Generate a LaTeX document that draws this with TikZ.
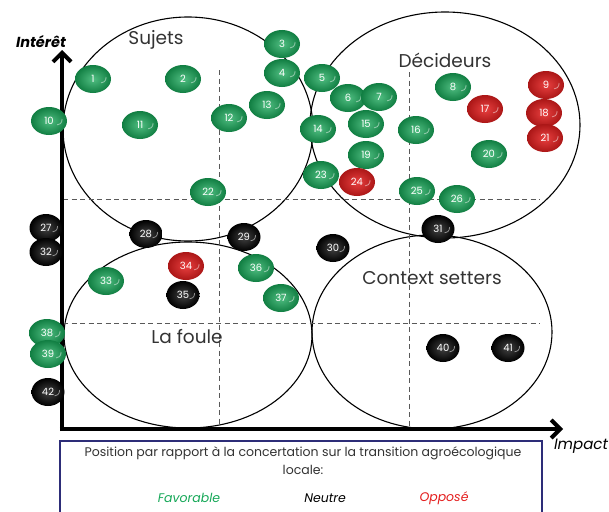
\documentclass[tikz,border=0pt]{standalone}
\usepackage{fontspec}
\setmainfont{Poppins}
\usetikzlibrary{shapes.geometric,arrows.meta}
\definecolor{candyG}{RGB}{22,168,88}
\definecolor{candyR}{RGB}{228,30,30}
\definecolor{candyK}{RGB}{20,20,20}
\definecolor{boxblue}{RGB}{45,45,120}
\tikzset{
  candy/.style={ellipse,minimum width=36pt,minimum height=28pt,inner sep=0pt,
    text=white,font=\fontsize{10}{10}\selectfont,
    path picture={\draw[white,opacity=.5,line width=.8pt]
      ([xshift=-5pt,yshift=2pt]path picture bounding box.east)
      arc[start angle=10,end angle=-90,radius=5pt];}},
  gr/.style={candy,inner color=candyG!75!white,outer color=candyG!75!black},
  rd/.style={candy,inner color=candyR!85!white,outer color=candyR!75!black},
  bk/.style={candy,minimum width=33pt,inner color=candyK!80!white,outer color=black},
  group/.style={font=\fontsize{18.5}{18.5}\selectfont,text=black!80},
  legtext/.style={font=\fontsize{12.5}{12.5}\selectfont,text=black!80},
  quad/.style={gray!70!black,line width=.9pt,dash pattern=on 5pt off 3.5pt},
  axis/.style={line width=4.5pt,-{Straight Barb[length=9pt,width=18pt,line width=4pt]}}
}
\begin{document}
\begin{tikzpicture}[x=1pt,y=-1pt]
\useasboundingbox[fill=white] (0,0) rectangle (609,511);
% groupes
\draw[line width=1.1pt] (188,129) ellipse [x radius=125,y radius=112];
\draw[line width=1.1pt] (445,125) ellipse [x radius=135,y radius=113];
\draw[line width=1.1pt] (188,335) ellipse [x radius=124,y radius=93];
\draw[line width=1.1pt] (432,332) ellipse [x radius=120,y radius=97];
% quadrants
\draw[quad] (63,199) -- (540,199);
\draw[quad] (63,323) -- (540,323);
\draw[quad] (219,70) -- (219,429);
\draw[quad] (409,72) -- (409,429);
% axes
\coordinate (O) at (62,429);
\coordinate (ytip) at (62,50);
\coordinate (xtip) at (563,429);
\draw[axis] ([yshift=-2.2pt]O) -- (ytip);
\draw[axis] ([xshift=-2.2pt]O) -- (xtip);
\node[font=\fontsize{14.5}{14.5}\selectfont\bfseries\itshape](yl) at (41,42) {Intérêt};
\node[font=\fontsize{15}{15}\selectfont\itshape](xl) at (581,446) {Impact};
\node[group](sujets) at (156,40) {Sujets};
\node[group](decideurs) at (445,60) {Décideurs};
\node[group](foule) at (187,337) {La foule};
\node[group](context) at (432,278) {Context setters};
% acteurs
\node[gr](c1) at (93,79) {1};
\node[gr](c2) at (183,79) {2};
\node[gr](c3) at (282,44) {3};
\node[gr](c4) at (282,73) {4};
\node[gr](c5) at (322,78) {5};
\node[gr](c6) at (348,98) {6};
\node[gr](c7) at (379,97) {7};
\node[gr](c8) at (453,87) {8};
\node[rd](c9) at (546,85) {9};
\node[gr](c10) at (49,121) {10};
\node[gr](c11) at (140,125) {11};
\node[gr](c12) at (229,118) {12};
\node[gr](c13) at (267,105) {13};
\node[gr](c14) at (318,129) {14};
\node[gr](c15) at (366,124) {15};
\node[gr](c16) at (416,130) {16};
\node[rd](c17) at (485,109) {17};
\node[rd](c18) at (544,113) {18};
\node[gr](c19) at (366,155) {19};
\node[gr](c20) at (489,154) {20};
\node[rd](c21) at (545,138) {21};
\node[gr](c22) at (208,192) {22};
\node[gr](c23) at (321,175) {23};
\node[rd](c24) at (357,182) {24};
\node[gr](c25) at (417,191) {25};
\node[gr](c26) at (457,199) {26};
\node[bk](c27) at (46,228) {27};
\node[bk](c28) at (146,234) {28};
\node[bk](c29) at (244,237) {29};
\node[bk](c30) at (333,248) {30};
\node[bk](c31) at (438,229) {31};
\node[bk](c32) at (46,252) {32};
\node[gr](c33) at (106,281) {33};
\node[rd](c34) at (186,266) {34};
\node[bk](c35) at (183,295) {35};
\node[gr](c36) at (256,268) {36};
\node[gr](c37) at (281,298) {37};
\node[gr](c38) at (47,333) {38};
\node[gr](c39) at (48,354) {39};
\node[bk](c40) at (443,348) {40};
\node[bk](c41) at (508,348) {41};
\node[bk](c42) at (48,392) {42};
% legende
\draw[boxblue,line width=1.2pt] (60,441) rectangle (542,514);
\node[legtext](pos) at (303,453) {Position par rapport à la concertation sur la transition agroécologique};
\node[legtext](loc) at (303,470) {locale:};
\node[legtext,font=\fontsize{12.5}{12.5}\selectfont\itshape,text=candyG](fav) at (189,498) {Favorable};
\node[legtext,font=\fontsize{12.5}{12.5}\selectfont\itshape,text=black](neu) at (325,498) {Neutre};
\node[legtext,font=\fontsize{12.5}{12.5}\selectfont\itshape,text=candyR](opp) at (444,498) {Opposé};
\end{tikzpicture}
\end{document}
